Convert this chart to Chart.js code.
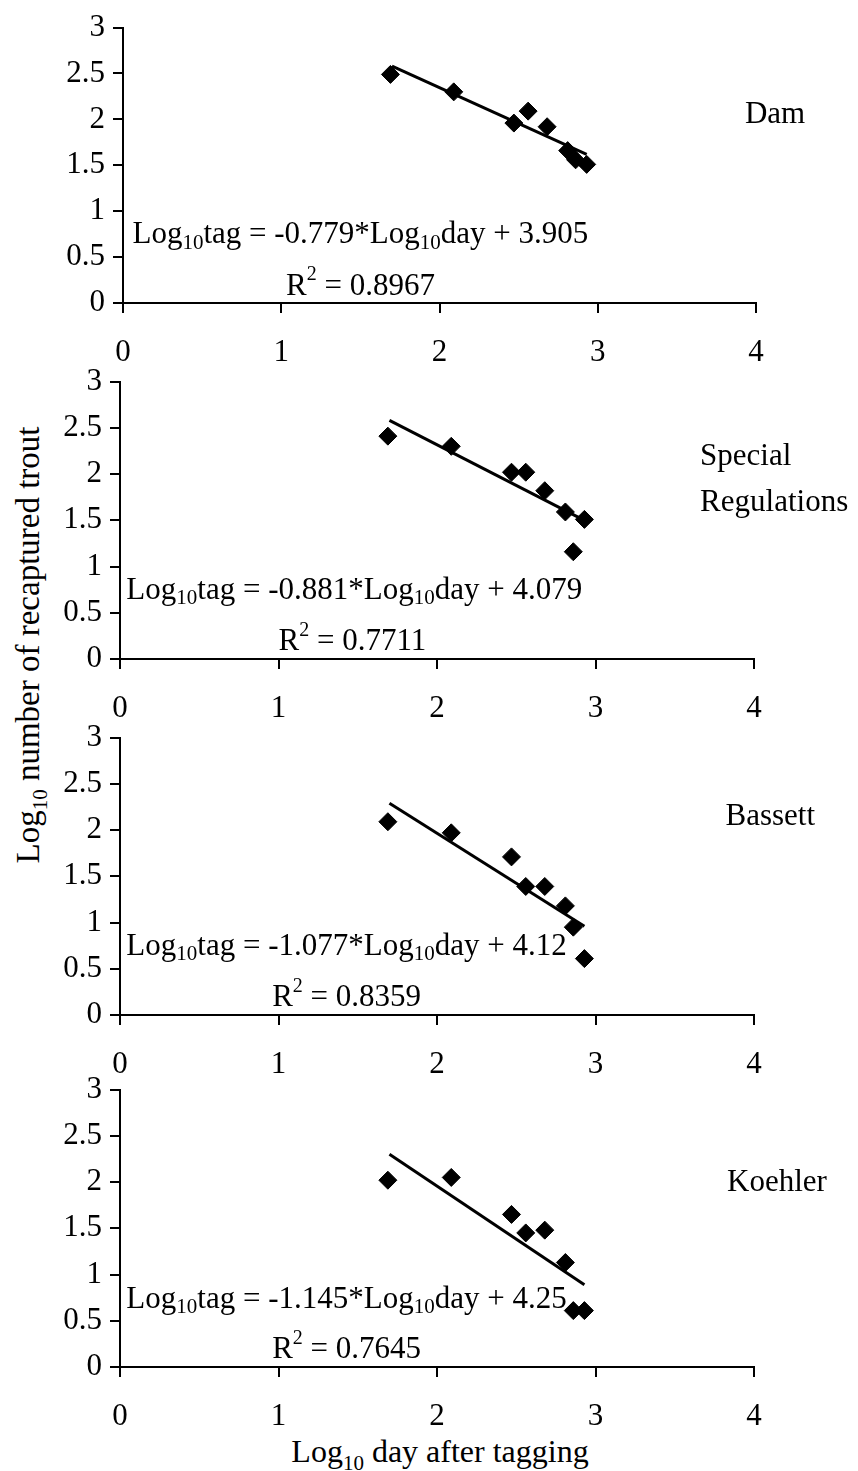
<!DOCTYPE html>
<html>
<head>
<meta charset="utf-8">
<script src="https://cdn.jsdelivr.net/npm/chart.js@4"></script>
<style>
  body { margin: 0; background: #fff; width: 858px; height: 1471px; position: relative; overflow: hidden;
         font-family: "Liberation Serif", "Times New Roman", serif; color: #000; }
  canvas { position: absolute; left: 0; }
  .title { position: absolute; line-height: 1; white-space: nowrap; }
  .title sub { font-size: 21px; vertical-align: -8px; line-height: 0; }
  .ytitle { font-size: 33px; left: 28px; top: 645px; transform: translate(-50%, -50%) rotate(-90deg); }
  .xtitle { font-size: 32px; left: 440px; top: 1451px; transform: translate(-50%, -50%); }
</style>
</head>
<body>
<div class="title ytitle">Log<sub>10</sub> number of recaptured trout</div>
<div class="title xtitle">Log<sub>10</sub> day after tagging</div>

<script>
// values
const logDay = [1.69, 2.09, 2.47, 2.56, 2.68, 2.81, 2.86, 2.93];
const damTag = [2.49, 2.30, 1.96, 2.09, 1.92, 1.66, 1.56, 1.51];
const specialTag = [2.41, 2.30, 2.02, 2.02, 1.82, 1.59, 1.16, 1.51];
const bassettTag = [2.09, 1.97, 1.71, 1.39, 1.39, 1.18, 0.95, 0.61];
const koehlerTag = [2.02, 2.05, 1.65, 1.45, 1.48, 1.13, 0.61, 0.61];

// fitted lines (end points as drawn)
const trendX = [1.70, 2.93];
const damTrend = [2.58, 1.62];
const specialTrend = [2.58, 1.50];
const bassettTrend = [2.29, 0.96];
const koehlerTrend = [2.30, 0.89];

const slopes = ['-0.779', '-0.881', '-1.077', '-1.145'];
const intercepts = ['3.905', '4.079', '4.12', '4.25'];
const rSquared = ['0.8967', '0.7711', '0.8359', '0.7645'];
const siteNames = [['Dam'], ['Special', 'Regulations'], ['Bassett'], ['Koehler']];

const xTicks = [0, 1, 2, 3, 4];
const yTicks = [0, 0.5, 1, 1.5, 2, 2.5, 3];

const tagSeries = [damTag, specialTag, bassettTag, koehlerTag];
const trendSeries = [damTrend, specialTrend, bassettTrend, koehlerTrend];

// plot area of each panel on the page
const panels = [
  { left: 123, right: 756, top: 21, bottom: 303, eq: [0.06, 0.74], r2: [1.03, 0.18], site: [3.93, 2.05] },
  { left: 120, right: 754, top: 375, bottom: 659, eq: [0.04, 0.74], r2: [1.00, 0.18], site: [3.66, 2.19] },
  { left: 120, right: 754, top: 731, bottom: 1015, eq: [0.04, 0.74], r2: [0.96, 0.18], site: [3.82, 2.14] },
  { left: 120, right: 754, top: 1083, bottom: 1367, eq: [0.04, 0.73], r2: [0.96, 0.18], site: [3.83, 1.99] }
];

const FONT = '"Liberation Serif", "Times New Roman", serif';
const Y_AXIS_W = 80, X_AXIS_H = 66, PAD_TOP = 20, CANVAS_EXTRA = 80;

// draw text made of pieces, some of them sub- or superscript
function drawRich(ctx, x, y, parts) {
  ctx.save();
  ctx.fillStyle = '#000';
  ctx.textBaseline = 'middle';
  ctx.textAlign = 'left';
  parts.forEach(([txt, kind]) => {
    let dy = 0;
    if (kind === 'sub') { ctx.font = '21px ' + FONT; dy = 8; }
    else if (kind === 'sup') { ctx.font = '20px ' + FONT; dy = -12; }
    else ctx.font = '31px ' + FONT;
    ctx.fillText(txt, x, y + dy);
    x += ctx.measureText(txt).width;
  });
  ctx.restore();
}

const panelText = {
  id: 'panelText',
  afterDraw(chart, args, opts) {
    const { ctx } = chart;
    const sx = chart.scales.x, sy = chart.scales.y;
    const i = opts.index, p = panels[i];
    drawRich(ctx, sx.getPixelForValue(p.eq[0]), sy.getPixelForValue(p.eq[1]), [
      ['Log'], ['10', 'sub'], ['tag = ' + slopes[i] + '*Log'], ['10', 'sub'], ['day + ' + intercepts[i]]
    ]);
    drawRich(ctx, sx.getPixelForValue(p.r2[0]), sy.getPixelForValue(p.r2[1]), [
      ['R'], ['2', 'sup'], [' = ' + rSquared[i]]
    ]);
    const sitePx = sx.getPixelForValue(p.site[0]);
    const siteY = sy.getPixelForValue(p.site[1]);
    siteNames[i].forEach((line, k) => drawRich(ctx, sitePx, siteY + k * 46, [[line]]));
  }
};

panels.forEach((p, i) => {
  const cv = document.createElement('canvas');
  const h = p.bottom - p.top + PAD_TOP + CANVAS_EXTRA;
  cv.width = 858;
  cv.height = h;
  cv.style.top = (p.top - PAD_TOP) + 'px';
  document.body.appendChild(cv);

  new Chart(cv.getContext('2d'), {
    type: 'scatter',
    data: {
      datasets: [
        {
          type: 'line',
          data: trendX.map((x, k) => ({ x: x, y: trendSeries[i][k] })),
          borderColor: '#000',
          borderWidth: 3,
          pointRadius: 0,
          fill: false
        },
        {
          data: logDay.map((x, k) => ({ x: x, y: tagSeries[i][k] })),
          pointStyle: 'rectRot',
          pointRadius: 9,
          backgroundColor: '#000',
          borderColor: '#000',
          borderWidth: 1
        }
      ]
    },
    options: {
      responsive: false,
      animation: false,
      devicePixelRatio: 1,
      layout: {
        padding: {
          left: p.left - Y_AXIS_W,
          right: 858 - p.right,
          top: PAD_TOP,
          bottom: CANVAS_EXTRA - X_AXIS_H
        }
      },
      plugins: {
        legend: { display: false },
        tooltip: { enabled: false },
        panelText: { index: i }
      },
      scales: {
        x: {
          type: 'linear',
          min: 0, max: 4,
          afterFit: s => { s.height = X_AXIS_H; },
          afterBuildTicks: s => { s.ticks = xTicks.map(v => ({ value: v })); },
          border: { display: true, color: '#000', width: 2 },
          grid: { display: true, drawOnChartArea: false, drawTicks: true, tickLength: 10, color: '#000', lineWidth: 2 },
          ticks: { color: '#000', padding: 21, font: { family: FONT, size: 31 }, callback: v => String(v) }
        },
        y: {
          type: 'linear',
          min: 0, max: 3,
          afterFit: s => { s.width = Y_AXIS_W; },
          afterBuildTicks: s => { s.ticks = yTicks.map(v => ({ value: v })); },
          border: { display: true, color: '#000', width: 2 },
          grid: { display: true, drawOnChartArea: false, drawTicks: true, tickLength: 10, color: '#000', lineWidth: 2 },
          ticks: { color: '#000', padding: 8, font: { family: FONT, size: 31 }, callback: v => String(v) }
        }
      }
    },
    plugins: [panelText]
  });
});
</script>
</body>
</html>
